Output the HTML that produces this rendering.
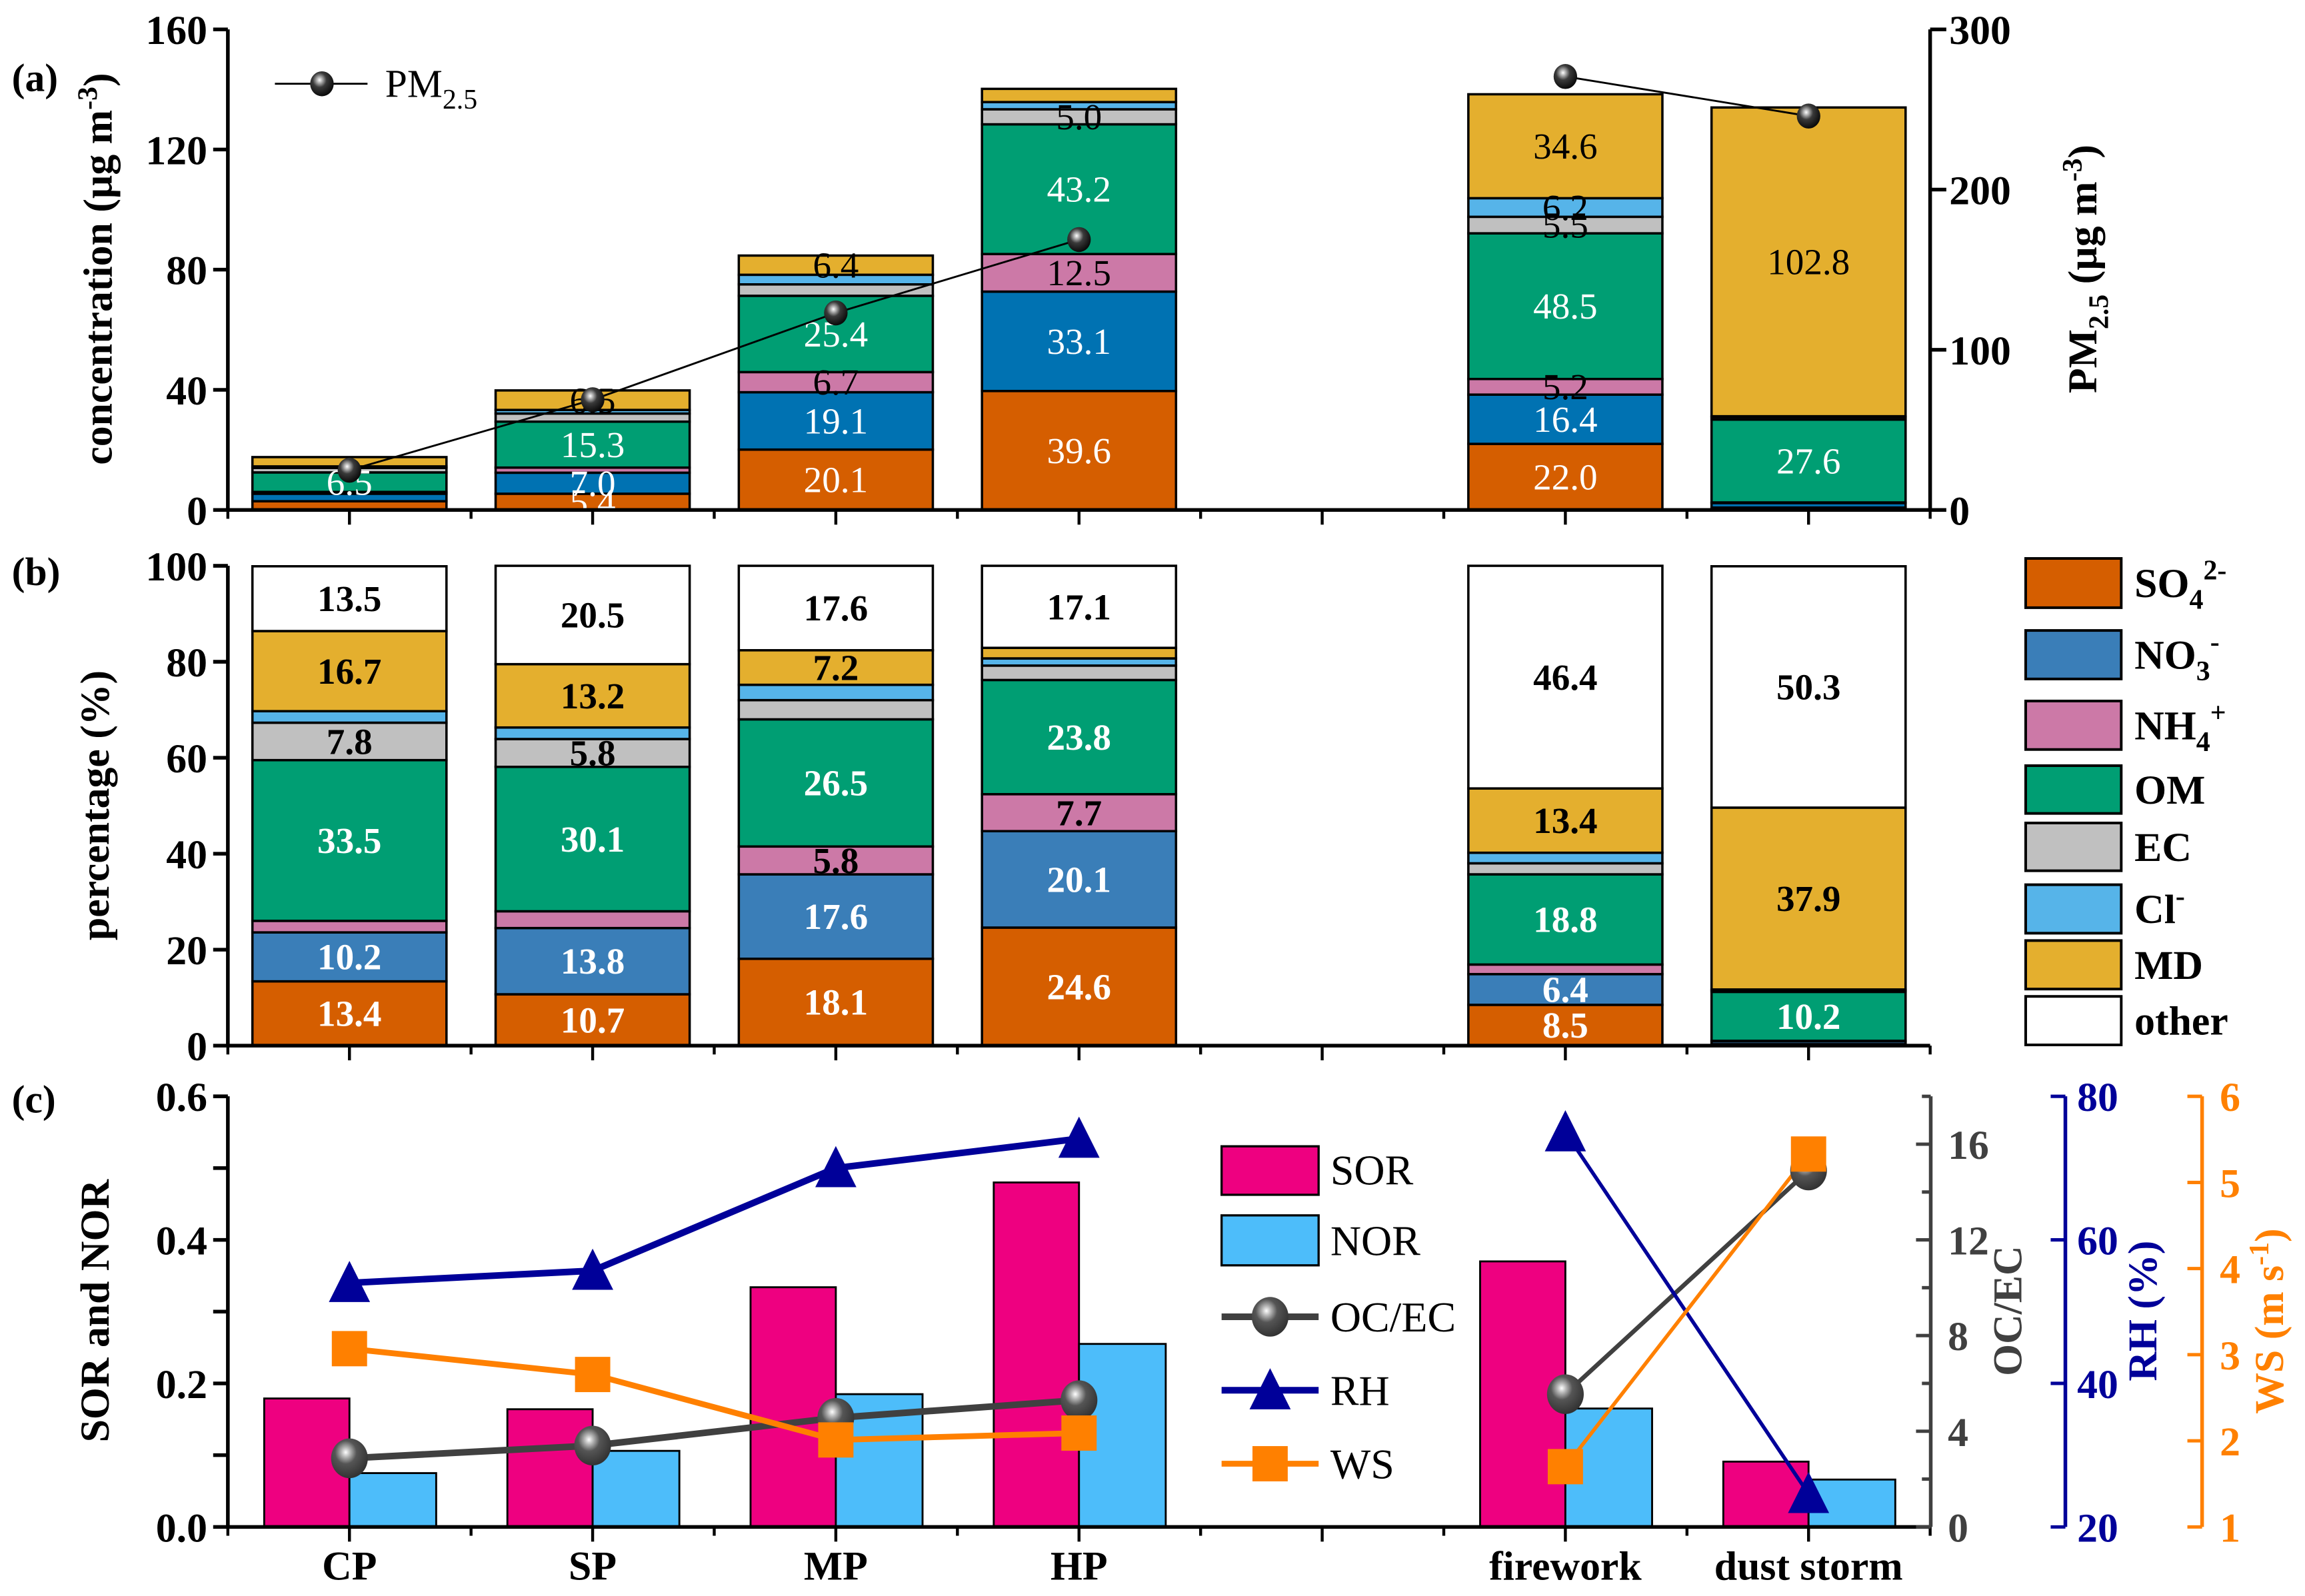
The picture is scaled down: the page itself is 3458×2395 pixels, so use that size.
<!DOCTYPE html>
<html><head><meta charset="utf-8"><style>
html,body{margin:0;padding:0;background:#fff;}
svg{display:block;font-family:"Liberation Serif",serif;}
</style></head><body>
<svg id="chart" xmlns="http://www.w3.org/2000/svg" width="3458" height="2395" viewBox="0 0 1568 1086">
<defs>
<radialGradient id="sph" cx="0.4" cy="0.35" r="0.65">
<stop offset="0" stop-color="#ffffff"/><stop offset="0.18" stop-color="#b0b0b0"/><stop offset="0.45" stop-color="#3a3a3a"/><stop offset="1" stop-color="#0a0a0a"/>
</radialGradient>
<radialGradient id="sph2" cx="0.4" cy="0.35" r="0.65">
<stop offset="0" stop-color="#ffffff"/><stop offset="0.18" stop-color="#b8b8b8"/><stop offset="0.45" stop-color="#555"/><stop offset="1" stop-color="#333"/>
</radialGradient>
</defs>
</svg>
<script>
const categories=['CP','SP','MP','HP','','firework','dust storm'];
// panel (a) concentrations (µg m-3)
const so4A=[2.9,5.4,20.1,39.6,null,22.0,0.8];
const no3A=[2.5,7.0,19.1,33.1,null,16.4,1.5];
const nh4A=[0.6,1.7,6.7,12.5,null,5.2,0.2];
const omA=[6.5,15.3,25.4,43.2,null,48.5,27.6];
const ecA=[1.5,2.7,3.8,5.0,null,5.5,0.8];
const clA=[0.5,1.2,3.2,2.4,null,6.2,0.3];
const mdA=[3.1,6.5,6.4,4.4,null,34.6,102.8];
const pm25=[24.8,68.8,123,168.8,null,270.6,245.9];
// panel (b) percentages
const so4P=[13.4,10.7,18.1,24.6,null,8.5,0.3];
const no3P=[10.2,13.8,17.6,20.1,null,6.4,0.6];
const nh4P=[2.4,3.5,5.8,7.7,null,2.0,0.1];
const omP=[33.5,30.1,26.5,23.8,null,18.8,10.2];
const ecP=[7.8,5.8,4.0,3.0,null,2.3,0.3];
const clP=[2.4,2.4,3.2,1.5,null,2.2,0.2];
const mdP=[16.7,13.2,7.2,2.2,null,13.4,37.9];
const otherP=[13.5,20.5,17.6,17.1,null,46.4,50.3];
// panel (c)
const sor=[0.179,0.164,0.334,0.48,null,0.37,0.091];
const nor=[0.075,0.106,0.185,0.255,null,0.165,0.066];
const ocec=[2.87,3.4,4.56,5.3,null,5.55,14.9];
const rh=[54,55.7,70,74.1,null,75,24.6];
const ws=[3.07,2.77,2.01,2.09,null,1.7,5.33];
// ticks
const ticksA=[0,40,80,120,160];
const ticksA2=[0,100,200,300];
const ticksB=[0,20,40,60,80,100];
const ticksC=[0,0.1,0.2,0.3,0.4,0.5,0.6];
const ticksOC=[0,2,4,6,8,10,12,14,16,18];
const ticksRH=[20,40,60,80];
const ticksWS=[1,2,3,4,5,6];

const svg=document.getElementById('chart');
const NS='http://www.w3.org/2000/svg';
function mk(tag,attrs,parent){const e=document.createElementNS(NS,tag);for(const k in attrs)e.setAttribute(k,attrs[k]);(parent||svg).appendChild(e);return e;}

const X0=155,X1=1313,BAND=165.43;
const xC=i=>X0+BAND*(i+0.5);
const yA=v=>347-v*327/160;
const yA2=v=>347-v*327/300;
const yB=v=>711.5-v*326.5/100;
const yC=v=>1039-v*293/0.6;
const yOC=v=>1039-v*293/18;
const yRH=v=>1039-(v-20)*293/60;
const yWS=v=>1039-(v-1)*293/5;

const compNames=['so4','no3','nh4','om','ec','cl','md','other'];
const colA=['#D55E00','#0072B2','#CC79A7','#009E73','#C0C0C0','#56B4E9','#E4AF2E','#FFFFFF'];
const colB=['#D55E00','#3A7EB8','#CC79A7','#009E73','#C0C0C0','#56B4E9','#E4AF2E','#FFFFFF'];
const txtCol=['#fff','#fff','#000','#fff','#000','#000','#000','#000'];

function txt(x,y,s,size,opts,parent){const t=mk('text',Object.assign({x:x,y:y,'font-size':size},opts||{}),parent);t.textContent=s;return t;}

// ---------- bottom axes helper ----------
function xAxis(y,name){
  const g=mk('g',{});
  
  
  mk('line',{x1:X0,x2:X1,y1:y,y2:y,stroke:'#000','stroke-width':2.5},g);
  for(let i=0;i<=7;i++){mk('line',{x1:X0+BAND*i,x2:X0+BAND*i,y1:y,y2:y+6,stroke:'#000','stroke-width':2},g);}
  for(let i=0;i<7;i++){mk('line',{x1:xC(i),x2:xC(i),y1:y,y2:y+10,stroke:'#000','stroke-width':2},g);}
}
function yAxisLeft(ticks,scale,top,bottom,fmt,name){
  const g=mk('g',{});
  
  
  mk('line',{x1:X0,x2:X0,y1:top,y2:bottom,stroke:'#000','stroke-width':2.5},g);
  ticks.forEach(v=>{mk('line',{x1:X0-10,x2:X0,y1:scale(v),y2:scale(v),stroke:'#000','stroke-width':2.5},g);
    if(fmt(v)!==null){const t=txt(141,scale(v)+10,fmt(v),28,{'text-anchor':'end','font-weight':'bold'},g);
    
    }});
}

// ================= PANEL A =================
const order=[so4A,no3A,nh4A,omA,ecA,clA,mdA];
for(let i=0;i<categories.length;i++){
  if(so4A[i]===null)continue;
  let cum=0;
  order.forEach((arr,k)=>{
    const v=arr[i];const y0=yA(cum),y1=yA(cum+v);
    const r=mk('rect',{x:xC(i)-66,y:y1,width:132,height:y0-y1,fill:colA[k],stroke:'#000','stroke-width':1.6});
    
    
    cum+=v;
  });
  cum=0;
  order.forEach((arr,k)=>{
    const v=arr[i];
    if(v>=5){const t=txt(xC(i),(yA(cum)+yA(cum+v))/2+8.5,v.toFixed(1),25,{'text-anchor':'middle',fill:txtCol[k]});
      
      }
    cum+=v;
  });
}
xAxis(347,'x-axis-a');
yAxisLeft(ticksA,yA,20,347,v=>String(v),'y-axis-a');
// right axis
{const g=mk('g',{});


mk('line',{x1:X1,x2:X1,y1:20,y2:347,stroke:'#000','stroke-width':2.5},g);
ticksA2.forEach(v=>{mk('line',{x1:X1,x2:X1+11,y1:yA2(v),y2:yA2(v),stroke:'#000','stroke-width':2.5},g);
 const t=txt(1326,yA2(v)+10,String(v),28,{'font-weight':'bold'},g);
 
 });}
// pm2.5 line
function drawLine(vals,xs,ys,color,w1,w2,name){
  for(let i=0;i<vals.length-1;i++){
    if(vals[i]===null||vals[i+1]===null)continue;
    const l=mk('line',{x1:xs(i),y1:ys(vals[i]),x2:xs(i+1),y2:ys(vals[i+1]),stroke:color,'stroke-width':i<4?w1:w2});
    
    
  }
}
drawLine(pm25,xC,yA2,'#000',1.3,1.3,'pm25-line');
pm25.forEach((v,i)=>{if(v===null)return;
 const c=mk('ellipse',{cx:xC(i),cy:yA2(v),rx:8,ry:8.5,fill:'url(#sph)'});
 
 });
// legend a
{const g=mk('g',{});


mk('line',{x1:187,x2:250,y1:57,y2:57,stroke:'#000','stroke-width':1.3},g);
mk('ellipse',{cx:219,cy:57,rx:8,ry:8.5,fill:'url(#sph)'},g);
const t=txt(262,66,'PM',27,{},g);const s=mk('tspan',{dy:8,'font-size':19},t);s.textContent='2.5';}
{const t=txt(8,62,'(a)',27,{'font-weight':'bold'});

}
{const t=txt(0,0,'concentration (µg m',28,{'font-weight':'bold',transform:'translate(76,183) rotate(-90)','text-anchor':'middle'});
const s=mk('tspan',{dy:-10,'font-size':19},t);s.textContent='-3';const s2=mk('tspan',{dy:10},t);s2.textContent=')';

}
{const t=txt(0,0,'PM',28,{'font-weight':'bold',transform:'translate(1426,183) rotate(-90)','text-anchor':'middle'});
const s=mk('tspan',{dy:8,'font-size':19},t);s.textContent='2.5';const s2=mk('tspan',{dy:-8},t);s2.textContent=' (µg m';
const s3=mk('tspan',{dy:-10,'font-size':19},t);s3.textContent='-3';const s4=mk('tspan',{dy:10},t);s4.textContent=')';

}

// ================= PANEL B =================
const orderB=[so4P,no3P,nh4P,omP,ecP,clP,mdP,otherP];
for(let i=0;i<categories.length;i++){
  if(so4P[i]===null)continue;
  let cum=0;
  orderB.forEach((arr,k)=>{
    const v=arr[i];const y0=yB(cum),y1=yB(cum+v);
    const r=mk('rect',{x:xC(i)-66,y:y1,width:132,height:y0-y1,fill:colB[k],stroke:'#000','stroke-width':1.6});
    
    
    cum+=v;
  });
  cum=0;
  orderB.forEach((arr,k)=>{
    const v=arr[i];
    if(v>=5){const t=txt(xC(i),(yB(cum)+yB(cum+v))/2+8.5,v.toFixed(1),25,{'text-anchor':'middle','font-weight':'bold',fill:txtCol[k]});
      
      }
    cum+=v;
  });
}
xAxis(711.5,'x-axis-b');
yAxisLeft(ticksB,yB,385,711.5,v=>String(v),'y-axis-b');
{const t=txt(8,398,'(b)',27,{'font-weight':'bold'});

}
{const t=txt(0,0,'percentage (%)',28,{'font-weight':'bold',transform:'translate(74,548) rotate(-90)','text-anchor':'middle'});

}
// legend b
const legY=[380,429,477,521,560,602,640,678];
const legH=[33.5,33,33,32.5,32.5,33,33,33];
const legLab=[['SO','4','2-'],['NO','3','-'],['NH','4','+'],['OM'],['EC'],['Cl','','-'],['MD'],['other']];
legY.forEach((y,k)=>{
  const g=mk('g',{});
  
  
  mk('rect',{x:1378,y:y,width:65,height:legH[k],fill:colB[k],stroke:'#000','stroke-width':1.8},g);
  const t=txt(1452,y+legH[k]/2+9.5,legLab[k][0],28,{'font-weight':'bold'},g);
  if(legLab[k].length>1){
    if(legLab[k][1]){const s=mk('tspan',{dy:8,'font-size':19},t);s.textContent=legLab[k][1];}
    const s2=mk('tspan',{dy:legLab[k][1]?-20:-12,'font-size':19},t);s2.textContent=legLab[k][2];
  }
});

// ================= PANEL C =================
sor.forEach((v,i)=>{if(v===null)return;
 const r=mk('rect',{x:xC(i)-58,y:yC(v),width:58,height:1039-yC(v),fill:'#EE0080',stroke:'#000','stroke-width':1.3});
 
 });
nor.forEach((v,i)=>{if(v===null)return;
 const r=mk('rect',{x:xC(i),y:yC(v),width:59,height:1039-yC(v),fill:'#4DBDFA',stroke:'#000','stroke-width':1.3});
 
 });
xAxis(1039,'x-axis-c');
yAxisLeft(ticksC,yC,746,1039,v=>(Math.round(v*10)%2===0)?v.toFixed(1):null,'y-axis-c');
categories.forEach((c,i)=>{if(!c)return;
 const t=txt(xC(i),1075,c,28,{'text-anchor':'middle','font-weight':'bold'});
 
 });
drawLine(ocec,xC,yOC,'#404040',4.5,3,'ocec-line');
drawLine(rh,xC,yRH,'#000099',4.5,2.5,'rh-line');
drawLine(ws,xC,yWS,'#FF8000',4,2.5,'ws-line');
ocec.forEach((v,i)=>{if(v===null)return;
 const c=mk('ellipse',{cx:xC(i),cy:yOC(v),rx:12.5,ry:13.5,fill:'url(#sph2)'});
 
 });
rh.forEach((v,i)=>{if(v===null)return;
 const x=xC(i),y=yRH(v);
 const p=mk('polygon',{points:(x)+','+(y-15)+' '+(x-14)+','+(y+13)+' '+(x+14)+','+(y+13),fill:'#000099'});
 
 });
ws.forEach((v,i)=>{if(v===null)return;
 const r=mk('rect',{x:xC(i)-12,y:yWS(v)-12,width:24,height:24,fill:'#FF8000'});
 
 });
// right axes c
function rightAxis(x,ticks,scale,color,labelX,fmt,name,majorEvery){
  const g=mk('g',{});
  
  
  mk('line',{x1:x,x2:x,y1:746,y2:1039,stroke:color,'stroke-width':2.5},g);
  ticks.forEach((v,j)=>{const major=fmt(v)!==null;
    mk('line',{x1:x-(major?10:6),x2:x,y1:scale(v),y2:scale(v),stroke:color,'stroke-width':2.3},g);
    if(major){const t=txt(labelX,scale(v)+10,fmt(v),28,{'font-weight':'bold',fill:color},g);
      
      }});
}
rightAxis(1313.4,ticksOC,yOC,'#404040',1325,v=>(v%4===0)?String(v):null,'right-axis-ocec');
rightAxis(1405,ticksRH,yRH,'#000099',1413,v=>String(v),'right-axis-rh');
rightAxis(1498,ticksWS,yWS,'#FF8000',1510,v=>String(v),'right-axis-ws');
{const t=txt(0,0,'OC/EC',28,{'font-weight':'bold',fill:'#404040',transform:'translate(1375,892) rotate(-90)','text-anchor':'middle'});

}
{const t=txt(0,0,'RH (%)',28,{'font-weight':'bold',fill:'#000099',transform:'translate(1467,892) rotate(-90)','text-anchor':'middle'});

}
{const t=txt(0,0,'WS (m s',28,{'font-weight':'bold',fill:'#FF8000',transform:'translate(1553,899) rotate(-90)','text-anchor':'middle'});
const s=mk('tspan',{dy:-10,'font-size':19},t);s.textContent='-1';const s2=mk('tspan',{dy:10},t);s2.textContent=')';

}
{const t=txt(8,757,'(c)',27,{'font-weight':'bold'});

}
{const t=txt(0,0,'SOR and NOR',28,{'font-weight':'bold',transform:'translate(74,892) rotate(-90)','text-anchor':'middle'});

}
// legend c
{const g=mk('g',{});


mk('rect',{x:831,y:780,width:66,height:33,fill:'#EE0080',stroke:'#000','stroke-width':1.5},g);
txt(905,806,'SOR',29,{},g);}
{const g=mk('g',{});


mk('rect',{x:831,y:827,width:66,height:34,fill:'#4DBDFA',stroke:'#000','stroke-width':1.5},g);
txt(905,854,'NOR',29,{},g);}
{const g=mk('g',{});


mk('line',{x1:831,x2:897,y1:896,y2:896,stroke:'#404040','stroke-width':4.5},g);
mk('ellipse',{cx:864,cy:896,rx:12.5,ry:13.5,fill:'url(#sph2)'},g);
txt(905,906,'OC/EC',29,{},g);}
{const g=mk('g',{});


mk('line',{x1:831,x2:897,y1:946,y2:946,stroke:'#000099','stroke-width':4.5},g);
mk('polygon',{points:'864,931 850,959 878,959',fill:'#000099'},g);
txt(905,956,'RH',29,{},g);}
{const g=mk('g',{});


mk('line',{x1:831,x2:897,y1:996,y2:996,stroke:'#FF8000','stroke-width':4},g);
mk('rect',{x:852,y:984,width:24,height:24,fill:'#FF8000'},g);
txt(905,1006,'WS',29,{},g);}
</script>
</body></html>
